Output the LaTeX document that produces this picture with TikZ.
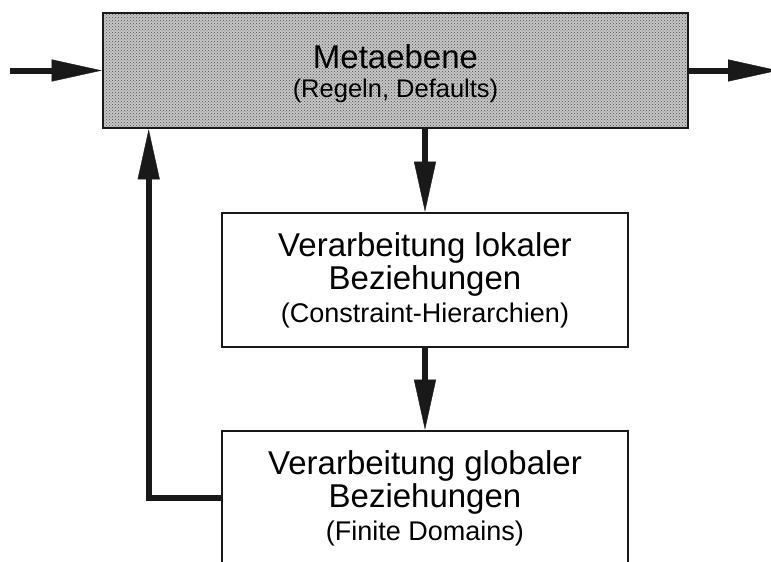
\documentclass[tikz,border=0pt]{standalone}
\usepackage{fontspec}
\setmainfont{Liberation Sans}
\usetikzlibrary{arrows.meta,patterns}
\begin{document}
\begin{tikzpicture}[x=1pt,y=-1pt,
  box/.style={draw=black!90, line width=2.6pt, inner sep=0pt, align=center,
    font=\fontsize{33}{33}\selectfont},
  subbox/.style={box, minimum width=406pt, minimum height=134pt, fill=white},
  label/.style={inner sep=0pt, align=center, font=\fontsize{33}{33}\selectfont},
  flow/.style={draw=black!90, line width=6pt, line join=miter,
    -{Triangle[length=50pt,width=22pt,line width=0.4pt]}},
]
\useasboundingbox[fill=white] (0,0) rectangle (771,562);
\node[box, minimum width=585pt, minimum height=115pt,
  preaction={fill=black!22}, pattern=crosshatch dots, pattern color=black!70] (meta) at (395.5,70.5) {};
\node[label] (metatext) at (395.5,73.5)
  {Metaebene\\[-4pt]{\fontsize{25.5}{33}\selectfont (Regeln, Defaults)}};
\node[subbox] (lokal) at (425,280)
  {Verarbeitung lokaler\\Beziehungen\\{\fontsize{27}{33}\selectfont (Constraint-Hierarchien)}};
\node[subbox] (global) at (425,498)
  {Verarbeitung globaler\\Beziehungen\\{\fontsize{27}{33}\selectfont (Finite Domains)}};
\coordinate (in) at (10,70.5);
\coordinate (out) at (778,70.5);
\draw[flow] (in) -- (meta.west);
\draw[flow] (meta.east) -- (out);
\draw[flow] (lokal.north |- meta.south) -- (lokal.north);
\draw[flow] (lokal.south) -- (global.north);
\draw[flow] (global.west) -| ([xshift=47pt]meta.south west);
\end{tikzpicture}
\end{document}
